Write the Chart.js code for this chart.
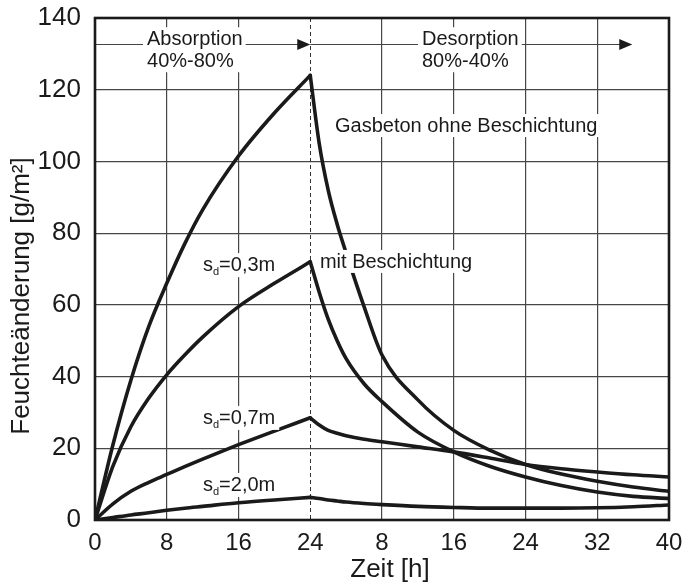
<!DOCTYPE html>
<html>
<head>
<meta charset="utf-8">
<script src="https://cdn.jsdelivr.net/npm/chart.js@4.4.0/dist/chart.umd.min.js"></script>
<style>
  html, body { margin: 0; padding: 0; background: #fff; }
  #wrap { width: 683px; height: 587px; }
</style>
</head>
<body>
<div id="wrap"><canvas id="chart" width="683" height="587"></canvas></div>
<script>
// time axis: 0-24 h absorption, then 0-40 h desorption (stored as 24-64)
const hours = [0, 2, 4, 6, 8, 10, 12, 16, 20, 24, 25, 26, 27, 28, 30, 32, 36, 40, 44, 48, 52, 56, 60, 64];
const gasbeton = [0, 21, 39, 54, 66, 77, 86.5, 101.5, 113.5, 124, 105, 92, 82.5, 74.5, 59.5, 46, 33.5, 25, 19.5, 15.5, 12.8, 10.8, 9.2, 8];
const sd03 = [0, 15, 26, 34, 40.5, 46, 51, 59.5, 66, 72, 63.5, 56, 50, 45, 38, 33, 24.5, 19, 15, 12, 9.6, 7.8, 6.6, 6];
const sd07 = [0, 4.5, 8, 10.5, 12.7, 14.9, 17, 21, 24.8, 28.5, 26.5, 25, 24.2, 23.5, 22.5, 21.8, 20.4, 19, 17.3, 15.5, 14.3, 13.4, 12.6, 12];
const sd20 = [0, 0.7, 1.4, 2, 2.7, 3.3, 3.8, 4.8, 5.6, 6.3, 6, 5.6, 5.3, 5, 4.6, 4.3, 3.8, 3.5, 3.3, 3.3, 3.3, 3.4, 3.7, 4.2];

const xTicks = [0, 8, 16, 24, 32, 40, 48, 56, 64];
const xTickLabels = ["0", "8", "16", "24", "8", "16", "24", "32", "40"];
const yTicks = [0, 20, 40, 60, 80, 100, 120, 140];
const switchHour = 24;

const INK = "#1a1a1a";
const GRID = "#474747";
const FONT = "'Liberation Sans', Arial, sans-serif";

// split each curve at the switch so the peak stays sharp
function pieces(values) {
  const abs = [], des = [];
  hours.forEach((h, i) => {
    if (h <= switchHour) abs.push({ x: h, y: values[i] });
    if (h >= switchHour) des.push({ x: h, y: values[i] });
  });
  return [abs, des];
}

const datasets = [];
[gasbeton, sd03, sd07, sd20].forEach(values => {
  pieces(values).forEach(part => {
    datasets.push({
      data: part,
      borderColor: INK,
      borderWidth: 3.6,
      pointRadius: 0,
      fill: false,
      cubicInterpolationMode: "monotone",
      borderCapStyle: "round",
      borderJoinStyle: "round"
    });
  });
});

// text labels inside the plot (data coordinates of the text's left/baseline)
const labels = [
  { lines: ["Absorption", "40%-80%"], x: 5.8, y: 132.4 },
  { lines: ["Desorption", "80%-40%"], x: 36.46, y: 132.4 },
  { lines: ["Gasbeton ohne Beschichtung"], x: 26.76, y: 108.2 },
  { lines: ["mit Beschichtung"], x: 25.08, y: 70.3 },
  { sd: "0,3m", x: 12.04, y: 69.4 },
  { sd: "0,7m", x: 12.04, y: 26.8 },
  { sd: "2,0m", x: 12.04, y: 8.1 }
];
const arrowLevel = 132.7;
const arrows = [[0, 24], [24, 59.9]];

const overlay = {
  id: "overlay",
  beforeDatasetsDraw(chart) {
    const { ctx, chartArea: a, scales: { x, y } } = chart;
    ctx.save();
    // dashed line at the switch from absorption to desorption
    const sx = Math.round(x.getPixelForValue(switchHour)) + 0.5;
    ctx.strokeStyle = "#333";
    ctx.lineWidth = 1;
    ctx.setLineDash([4, 3]);
    ctx.beginPath();
    ctx.moveTo(sx, a.top);
    ctx.lineTo(sx, a.bottom);
    ctx.stroke();
    ctx.setLineDash([]);
    // arrows along the top
    const ay = Math.round(y.getPixelForValue(arrowLevel)) + 0.5;
    arrows.forEach(([from, to]) => {
      const x0 = x.getPixelForValue(from), x1 = x.getPixelForValue(to);
      ctx.strokeStyle = "#444";
      ctx.lineWidth = 1;
      ctx.beginPath();
      ctx.moveTo(x0, ay);
      ctx.lineTo(x1 - 10, ay);
      ctx.stroke();
      ctx.fillStyle = INK;
      ctx.beginPath();
      ctx.moveTo(x1, ay);
      ctx.lineTo(x1 - 13, ay - 5.5);
      ctx.lineTo(x1 - 13, ay + 5.5);
      ctx.closePath();
      ctx.fill();
    });
    ctx.restore();
  },
  afterDatasetsDraw(chart) {
    const { ctx, chartArea: a, scales: { x, y } } = chart;
    ctx.save();
    ctx.textBaseline = "alphabetic";
    ctx.textAlign = "left";
    const big = "20px " + FONT;
    const small = "11px " + FONT;
    labels.forEach(l => {
      const px = x.getPixelForValue(l.x);
      const py = y.getPixelForValue(l.y);
      if (l.lines) {
        ctx.font = big;
        const w = Math.max(...l.lines.map(t => ctx.measureText(t).width));
        const h = 22 * (l.lines.length - 1);
        ctx.fillStyle = "#fff";
        ctx.fillRect(px - 4, py - 18, w + 7, h + 23);
        ctx.fillStyle = INK;
        l.lines.forEach((t, i) => ctx.fillText(t, px, py + 22 * i));
      } else {
        ctx.font = big;
        const ws = ctx.measureText("s").width;
        ctx.font = small;
        const wd = ctx.measureText("d").width;
        ctx.font = big;
        const rest = "=" + l.sd;
        const wr = ctx.measureText(rest).width;
        ctx.fillStyle = "#fff";
        ctx.fillRect(px - 4, py - 18, ws + wd + wr + 8, 24);
        ctx.fillStyle = INK;
        ctx.fillText("s", px, py);
        ctx.font = small;
        ctx.fillText("d", px + ws, py + 4);
        ctx.font = big;
        ctx.fillText(rest, px + ws + wd, py);
      }
    });
    // plot frame
    ctx.strokeStyle = INK;
    ctx.lineWidth = 2.6;
    ctx.strokeRect(a.left, a.top, a.right - a.left, a.bottom - a.top);

    // axis titles
    ctx.fillStyle = INK;
    ctx.font = "26px " + FONT;
    ctx.textAlign = "center";
    ctx.textBaseline = "middle";
    ctx.fillText("Zeit [h]", 390, 570);
    ctx.translate(22, 296);
    ctx.rotate(-Math.PI / 2);
    ctx.fillText("Feuchteänderung [g/m²]", 0, 0);
    ctx.restore();
  }
};

new Chart(document.getElementById("chart"), {
  type: "line",
  data: { datasets },
  options: {
    responsive: false,
    animation: false,
    events: [],
    layout: { padding: { top: 18, right: 14, left: 0, bottom: 0 } },
    plugins: { legend: { display: false }, tooltip: { enabled: false } },
    scales: {
      x: {
        type: "linear",
        min: 0,
        max: 64,
        afterBuildTicks: s => { s.ticks = xTicks.map(v => ({ value: v })); },
        afterFit: s => { s.height = 67; s.paddingLeft = 0; s.paddingRight = 0; },
        grid: {
          color: c => (c.tick && c.tick.value === switchHour ? "rgba(0,0,0,0)" : GRID),
          lineWidth: 1.2,
          drawTicks: false
        },
        border: { display: false },
        ticks: {
          padding: 9,
          color: INK,
          font: { family: FONT, size: 24 },
          maxRotation: 0,
          callback: v => xTickLabels[xTicks.indexOf(v)]
        }
      },
      y: {
        min: 0,
        max: 140,
        afterBuildTicks: s => { s.ticks = yTicks.map(v => ({ value: v })); },
        afterFit: s => { s.width = 95; s.paddingTop = 0; s.paddingBottom = 0; },
        grid: { color: GRID, lineWidth: 1.2, drawTicks: false },
        border: { display: false },
        ticks: {
          padding: 14,
          color: INK,
          font: { family: FONT, size: 26 }
        }
      }
    }
  },
  plugins: [overlay]
});
</script>
</body>
</html>
